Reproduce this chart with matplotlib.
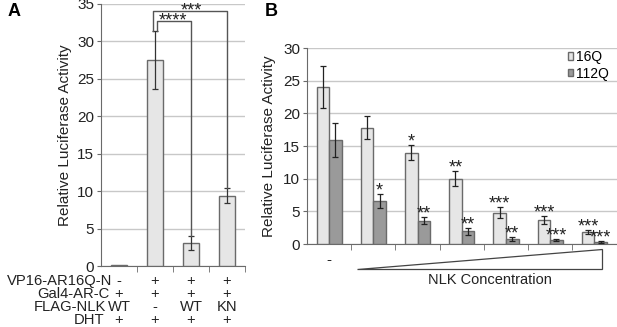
import numpy as np
import matplotlib
matplotlib.use("Agg")
import matplotlib.pyplot as plt
from matplotlib.patches import Patch, Polygon
import matplotlib.transforms as mtransforms

# Panel A data
a_vals = [0.1, 27.5, 3.1, 9.4]
a_err = [0.0, 3.9, 0.9, 1.0]
row_names = ["VP16-AR16Q-N", "Gal4-AR-C", "FLAG-NLK", "DHT"]
row_vals = [["-", "+", "+", "+"],
            ["+", "+", "+", "+"],
            ["WT", "-", "WT", "KN"],
            ["+", "+", "+", "+"]]

# Panel B data
b_16q = [24.0, 17.8, 14.0, 10.0, 4.8, 3.7, 1.9]
b_16q_err = [3.2, 1.8, 1.1, 1.15, 0.85, 0.6, 0.3]
b_112q = [15.9, 6.6, 3.55, 1.95, 0.75, 0.62, 0.33]
b_112q_err = [2.6, 1.05, 0.55, 0.5, 0.3, 0.1, 0.1]
stars_16q = ["", "", "*", "**", "***", "***", "***"]
stars_112q = ["", "*", "**", "**", "**", "***", "***"]

light = "#e6e6e6"
dark = "#9a9a9a"
edge = "#6a6a6a"
grid_c = "#c8c8c8"
txt = "#222222"

plt.rcParams['font.family'] = ['Liberation Sans', 'DejaVu Sans']
fig = plt.figure(figsize=(6.17, 3.27), dpi=100)

# ---------- Panel A ----------
axA = fig.add_axes([0.1637, 0.1865, 0.2334, 0.8013])
xa = np.arange(len(a_vals))
axA.bar(xa, a_vals, width=0.42, color=light, edgecolor=edge, linewidth=1, zorder=3)
axA.errorbar(xa[1:], a_vals[1:], yerr=a_err[1:], fmt="none", ecolor="#333333",
             elinewidth=0.9, capsize=2.5, capthick=0.9, zorder=4)
axA.set_xlim(-0.5, 3.5)
axA.set_ylim(0, 35)
axA.set_yticks(range(0, 36, 5))
axA.set_xticks([])
axA.set_xticks([0.5, 1.5, 2.5, 3.5], minor=True)
axA.tick_params(axis="x", which="minor", length=4, color=edge)
axA.tick_params(axis="y", length=3, color=edge, labelsize=11, labelcolor=txt, pad=2)
axA.yaxis.grid(True, color=grid_c, linewidth=1, zorder=0)
for s in ["top", "right"]:
    axA.spines[s].set_visible(False)
for s in ["left", "bottom"]:
    axA.spines[s].set_color(edge)
axA.set_ylabel("Relative Luciferase Activity", fontsize=11, color=txt, labelpad=4)

# significance brackets
bc = "#555555"
axA.plot([1.05, 1.05, 2.0, 2.0], [31.4, 32.7, 32.7, 4.0], color=bc, lw=1, zorder=5)
axA.plot([0.95, 0.95, 3.0, 3.0], [31.4, 34.0, 34.0, 10.4], color=bc, lw=1,
         zorder=5, clip_on=False)
axA.annotate("****", (1.5, 32.7), xytext=(0, -3), textcoords="offset points",
             ha="center", va="baseline", fontsize=13, color=txt)
axA.annotate("***", (2.0, 34.0), xytext=(0, -3), textcoords="offset points",
             ha="center", va="baseline", fontsize=13, color=txt, annotation_clip=False)

# row table under panel A
row_y = [281, 294, 307, 320]
row_right = [112, 110, 106, 104]
for r, name in enumerate(row_names):
    yf = 1 - row_y[r] / 327
    fig.text(row_right[r] / 617, yf, name, ha="right", va="center", fontsize=10.6, color=txt)
    for c, v in enumerate(row_vals[r]):
        xf = (101 + 36 * c + 18) / 617
        fig.text(xf, yf, v, ha="center", va="center", fontsize=10.6, color=txt)

fig.text(8 / 617, 1 - 12 / 327, "A", fontsize=13, fontweight="bold", va="center")

# ---------- Panel B ----------
axB = fig.add_axes([0.4976, 0.2538, 0.5016, 0.5994])
xb = np.arange(len(b_16q))
w = 0.285
axB.bar(xb - w / 2, b_16q, width=w, color=light, edgecolor=edge, linewidth=1, zorder=3)
axB.bar(xb + w / 2, b_112q, width=w, color=dark, edgecolor=edge, linewidth=1, zorder=3)
axB.errorbar(xb - w / 2, b_16q, yerr=b_16q_err, fmt="none", ecolor="#222222",
             elinewidth=0.9, capsize=2.5, capthick=0.9, zorder=4)
axB.errorbar(xb + w / 2, b_112q, yerr=b_112q_err, fmt="none", ecolor="#222222",
             elinewidth=0.9, capsize=2.5, capthick=0.9, zorder=4)
for i in range(len(xb)):
    if stars_16q[i]:
        axB.annotate(stars_16q[i], (xb[i] - w / 2, b_16q[i] + b_16q_err[i]),
                     xytext=(0, -1), textcoords="offset points",
                     ha="center", va="baseline", fontsize=13, color=txt)
    if stars_112q[i]:
        axB.annotate(stars_112q[i], (xb[i] + w / 2, b_112q[i] + b_112q_err[i]),
                     xytext=(0, -1), textcoords="offset points",
                     ha="center", va="baseline", fontsize=13, color=txt)

axB.set_xlim(-0.5, 6.5)
axB.set_ylim(0, 30)
axB.set_yticks(range(0, 31, 5))
axB.set_xticks([])
axB.set_xticks(np.arange(0.5, 6.0, 1.0), minor=True)
axB.tick_params(axis="x", which="minor", length=4, color=edge)
axB.tick_params(axis="y", length=3, color=edge, labelsize=11, labelcolor=txt, pad=2)
axB.yaxis.grid(True, color=grid_c, linewidth=1, zorder=0)
for s in ["top", "right"]:
    axB.spines[s].set_visible(False)
for s in ["left", "bottom"]:
    axB.spines[s].set_color(edge)
axB.set_ylabel("Relative Luciferase Activity", fontsize=11, color=txt, labelpad=5)

trans = mtransforms.blended_transform_factory(axB.transData, axB.transAxes)
axB.text(0, -0.08, "-", transform=trans, ha="center", va="center", fontsize=11, color=txt)
tri = Polygon([[0.63, -0.128], [6.18, -0.128], [6.18, -0.026]], closed=True,
              facecolor="white", edgecolor="#444444", lw=0.9, transform=trans,
              clip_on=False)
axB.add_patch(tri)
axB.text(3.63, -0.185, "NLK Concentration", transform=trans, ha="center",
         va="center", fontsize=10.5, color=txt)

handles = [Patch(facecolor=light, edgecolor=edge, label="16Q"),
           Patch(facecolor=dark, edgecolor=edge, label="112Q")]
axB.legend(handles=handles, loc="upper right", bbox_to_anchor=(0.975, 0.99),
           frameon=False, fontsize=10, handlelength=0.4, handleheight=0.4,
           handletextpad=0.2, labelspacing=0.2, borderpad=0.0, borderaxespad=0.0)

fig.text(265 / 617, 1 - 12 / 327, "B", fontsize=13, fontweight="bold", va="center")

fig.savefig("out.png", dpi=100)
